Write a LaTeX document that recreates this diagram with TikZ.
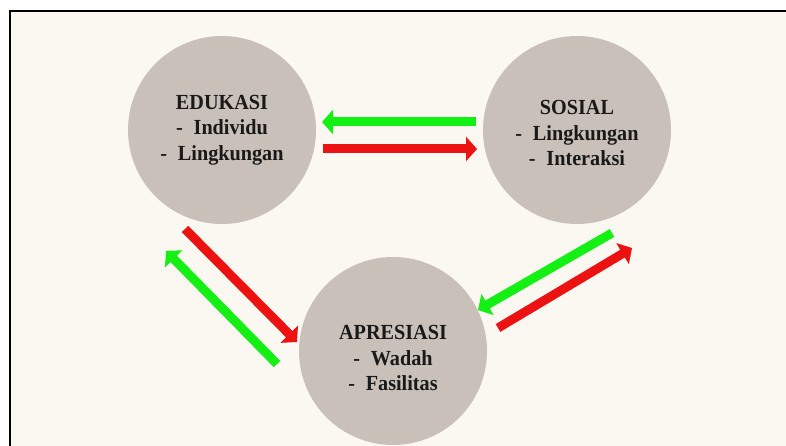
\documentclass[tikz,border=0pt]{standalone}
\usepackage{fontspec}
\setmainfont{Liberation Serif}[FakeStretch=0.94]
\usetikzlibrary{arrows.meta}
\definecolor{bgcream}{RGB}{250,248,240}
\definecolor{circfill}{RGB}{201,193,185}
\definecolor{arrgreen}{RGB}{20,240,20}
\definecolor{arrred}{RGB}{236,18,18}
\tikzset{
  bubble/.style={circle, fill=circfill, minimum size=188pt, inner sep=0pt},
  txt/.style={align=center, font=\fontsize{21.5}{25.5}\selectfont\bfseries, text=black!90, inner sep=0pt},
  fat/.style={line width=9pt, -{Triangle[length=11pt,width=24pt]}},
  garrow/.style={fat, draw=arrgreen},
  rarrow/.style={fat, draw=arrred}
}
\newcommand{\dsh}{-\hspace{0.5em}}
\begin{document}
\begin{tikzpicture}[x=1pt,y=-1pt]
\useasboundingbox (0,0) rectangle (786,446);
\begin{scope}
\clip (0,0) rectangle (786,446);
\fill[bgcream] (10,11) rectangle (800,460);
\draw[line width=2pt] (10,11) rectangle (800,460);
\end{scope}

\node[bubble] (edu) at (222,130) {};
\node[bubble] (sos) at (577,130) {};
\node[bubble] (apr) at (393,351) {};

\node[txt] (edut) at (edu.center) {EDUKASI\\ \dsh Individu\\ \dsh Lingkungan};
\node[txt] (sost) at ([yshift=-3pt]sos.center) {SOSIAL\\ \dsh Lingkungan\\ \dsh Interaksi};
\node[txt] (aprt) at ([yshift=-7pt]apr.center) {APRESIASI\\ \dsh Wadah\\ \dsh Fasilitas};

% arrow end points
\coordinate (tg1) at (476,122); \coordinate (tg2) at (322,122);
\coordinate (tr1) at (323,149); \coordinate (tr2) at (477,149);
\coordinate (lr1) at (185,229); \coordinate (lr2) at (297,342);
\coordinate (lg1) at (277,364); \coordinate (lg2) at (166,251);
\coordinate (rg1) at (612,233); \coordinate (rg2) at (478,310);
\coordinate (rr1) at (498,328); \coordinate (rr2) at (632,248);

\draw[garrow] (tg1) -- (tg2);
\draw[rarrow] (tr1) -- (tr2);
\draw[rarrow] (lr1) -- (lr2);
\draw[garrow] (lg1) -- (lg2);
\draw[garrow] (rg1) -- (rg2);
\draw[rarrow] (rr1) -- (rr2);
\end{tikzpicture}
\end{document}
